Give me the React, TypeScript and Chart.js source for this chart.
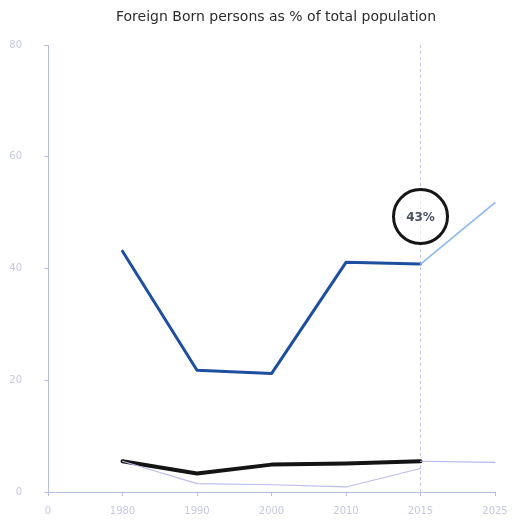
import React, { useEffect, useRef } from "react";
import { Chart, registerables } from "chart.js";

Chart.register(...registerables);

// Category labels along the x axis
const years = ["0", "1980", "1990", "2000", "2010", "2015", "2025"];

// Foreign born share, main series and its projection
const foreignBorn = [null, 43.1, 21.8, 21.2, 41.1, 40.8, null];
const foreignBornProjection = [null, null, null, null, null, 40.8, 51.8];

// Comparison series (black) and the thin reference line beneath it
const comparison = [null, 5.5, 3.3, 4.9, 5.1, 5.5, null];
const reference = [null, 5.5, 1.5, 1.3, 0.9, 4.2, null];
const comparisonProjection = [null, null, null, null, null, 5.5, 5.3];

const yTicks = [0, 20, 40, 60, 80];
const highlightYear = "2015";
const highlightLabel = "43%";
const highlightAt = 49.3;
const titleText = "Foreign Born persons as % of total population";

const axisColor = "#b9bde3";
const tickLabelColor = "#c6c8e2";

const overlay = {
  id: "overlay",
  beforeDatasetsDraw(chart: any) {
    const { ctx, chartArea, scales } = chart;
    const x = scales.x.getPixelForValue(years.indexOf(highlightYear));
    ctx.save();
    ctx.strokeStyle = "#c3c7e6";
    ctx.lineWidth = 1;
    ctx.setLineDash([3, 3]);
    ctx.beginPath();
    ctx.moveTo(x, chartArea.top);
    ctx.lineTo(x, chartArea.bottom);
    ctx.stroke();
    ctx.restore();
  },
  afterDatasetsDraw(chart: any) {
    const { ctx, scales } = chart;
    const x = scales.x.getPixelForValue(years.indexOf(highlightYear));
    const y = scales.y.getPixelForValue(highlightAt);
    ctx.save();
    ctx.beginPath();
    ctx.arc(x, y, 27, 0, Math.PI * 2);
    ctx.fillStyle = "rgba(255,255,255,0.6)";
    ctx.fill();
    ctx.lineWidth = 3;
    ctx.strokeStyle = "#161616";
    ctx.stroke();
    ctx.fillStyle = "#4a5063";
    ctx.font = "bold 12px 'DejaVu Sans'";
    ctx.textAlign = "center";
    ctx.textBaseline = "middle";
    ctx.fillText(highlightLabel, x, y + 1);
    ctx.restore();
  },
  afterDraw(chart: any) {
    const { ctx } = chart;
    ctx.save();
    ctx.fillStyle = "#2c2c2c";
    ctx.font = "14px 'DejaVu Sans'";
    ctx.textAlign = "center";
    ctx.textBaseline = "middle";
    ctx.fillText(titleText, 276, 17);
    ctx.restore();
  },
};

export default function App() {
  const canvasRef = useRef<HTMLCanvasElement>(null);

  useEffect(() => {
    if (!canvasRef.current) return;
    const chart = new Chart(canvasRef.current, {
      type: "line",
      data: {
        labels: years,
        datasets: [
          {
            data: reference,
            borderColor: "#bcbcec",
            borderWidth: 1.2,
          },
          {
            data: comparisonProjection,
            borderColor: "#b4b6ea",
            borderWidth: 1.2,
          },
          {
            data: comparison,
            borderColor: "#141414",
            borderWidth: 4,
          },
          {
            data: foreignBornProjection,
            borderColor: "#8db9f2",
            borderWidth: 1.6,
          },
          {
            data: foreignBorn,
            borderColor: "#1d4f9e",
            borderWidth: 3,
          },
        ],
      },
      options: {
        animation: false,
        responsive: false,
        maintainAspectRatio: false,
        layout: { padding: { top: 45, right: 29, left: 0, bottom: 0 } },
        elements: {
          point: { radius: 0 },
          line: { tension: 0, borderCapStyle: "round", borderJoinStyle: "round" },
        },
        plugins: {
          legend: { display: false },
          title: { display: false },
          tooltip: { enabled: false },
        },
        scales: {
          x: {
            type: "category",
            offset: false,
            grid: {
              display: true,
              drawOnChartArea: false,
              drawTicks: true,
              tickLength: 4,
              color: axisColor,
            },
            border: { display: true, color: axisColor, width: 1 },
            ticks: {
              color: tickLabelColor,
              font: { size: 10, family: "'DejaVu Sans'" },
              padding: 9,
              maxRotation: 0,
              autoSkip: false,
            },
            afterFit(scale: any) {
              scale.height = 31;
            },
          },
          y: {
            min: 0,
            max: 80,
            afterBuildTicks(scale: any) {
              scale.ticks = yTicks.map((v) => ({ value: v }));
            },
            grid: {
              display: true,
              drawOnChartArea: false,
              drawTicks: true,
              tickLength: 4,
              color: axisColor,
            },
            border: { display: true, color: axisColor, width: 1 },
            ticks: {
              color: tickLabelColor,
              font: { size: 10, family: "'DejaVu Sans'" },
              padding: 22,
            },
            afterFit(scale: any) {
              scale.width = 48;
            },
          },
        },
      },
      plugins: [overlay],
    });
    return () => chart.destroy();
  }, []);

  return (
    <div
      style={{
        position: "fixed",
        left: 0,
        top: 0,
        width: 524,
        height: 523,
        background: "#ffffff",
      }}
    >
      <canvas ref={canvasRef} width={524} height={523} style={{ display: "block" }} />
    </div>
  );
}
